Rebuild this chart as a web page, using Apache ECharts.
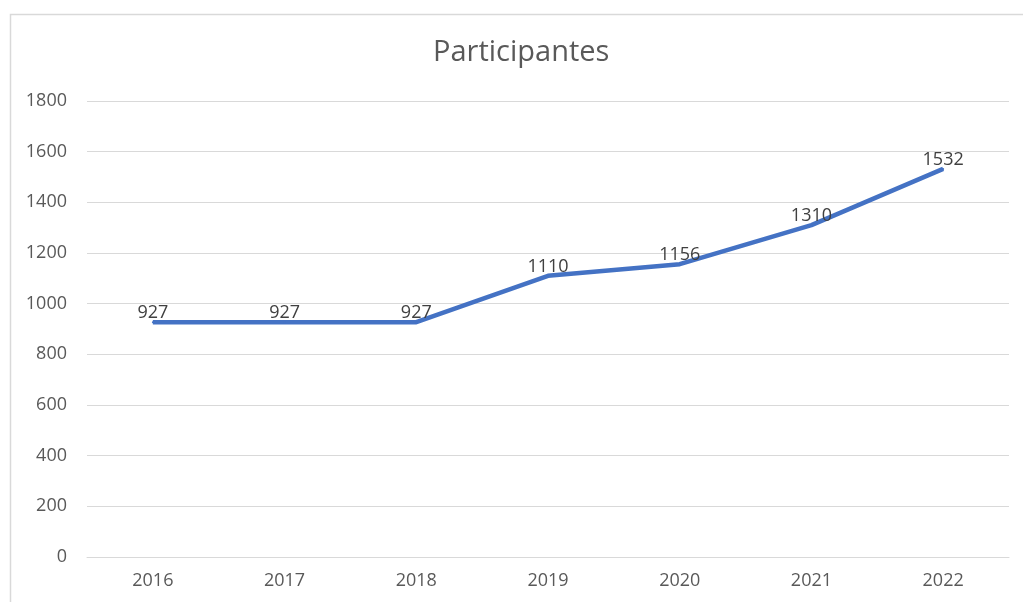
<!DOCTYPE html>
<html>
<head>
<meta charset="utf-8">
<script src="https://cdn.jsdelivr.net/npm/echarts@6/dist/echarts.min.js"></script>
<style>
html, body { margin: 0; padding: 0; background: #fff; }
#chart { width: 1023px; height: 602px; }
</style>
</head>
<body>
<div id="chart"></div>
<script>
// 数据
let years = ['2016', '2017', '2018', '2019', '2020', '2021', '2022'];
let participantes = [927, 927, 927, 1110, 1156, 1310, 1532];
let yTicks = [0, 200, 400, 600, 800, 1000, 1200, 1400, 1600, 1800];

let textColor = '#595959';
let lineColor = '#4472C4';
let fontFamily = '"Open Sans", "Liberation Sans", sans-serif';

let myChart = echarts.init(document.getElementById('chart'));

let option = {
    backgroundColor: '#fff',
    animation: false,
    title: {
        text: 'Participantes',
        left: 428, // 标题略偏右
        top: 33,
        textStyle: {
            color: textColor,
            fontSize: 29,
            fontWeight: 'normal',
            fontFamily: fontFamily
        }
    },
    graphic: [
        { // 外边框
            type: 'rect',
            left: 8,
            top: 12,
            shape: { width: 1040, height: 620 },
            style: { fill: 'none', stroke: '#d9d9d9', lineWidth: 1.5 },
            silent: true
        }
    ],
    grid: {
        left: 87,
        right: 14,
        top: 101,
        bottom: 45,
        containLabel: false
    },
    xAxis: {
        type: 'category',
        data: years,
        boundaryGap: true,
        axisTick: { show: false },
        axisLine: { lineStyle: { color: '#d9d9d9' } },
        axisLabel: {
            color: textColor,
            fontSize: 18,
            fontFamily: fontFamily,
            margin: 15
        }
    },
    yAxis: {
        type: 'value',
        min: yTicks[0],
        max: yTicks[yTicks.length - 1],
        interval: 200,
        axisLine: { show: false },
        axisTick: { show: false },
        axisLabel: {
            color: textColor,
            fontSize: 18,
            fontFamily: fontFamily,
            margin: 20,
            formatter: (v) => String(v)
        },
        splitLine: { lineStyle: { color: '#d9d9d9', width: 1 } }
    },
    series: [
        {
            type: 'line',
            name: 'Participantes',
            data: participantes,
            smooth: false,
            symbol: 'circle',
            symbolSize: 2,
            showSymbol: true,
            lineStyle: { color: lineColor, width: 4.5 },
            itemStyle: { color: lineColor },
            label: {
                show: true,
                position: 'top',
                distance: -1,
                color: '#404040',
                fontSize: 18,
                fontFamily: fontFamily
            }
        }
    ]
};

myChart.setOption(option, true);
</script>
</body>
</html>
